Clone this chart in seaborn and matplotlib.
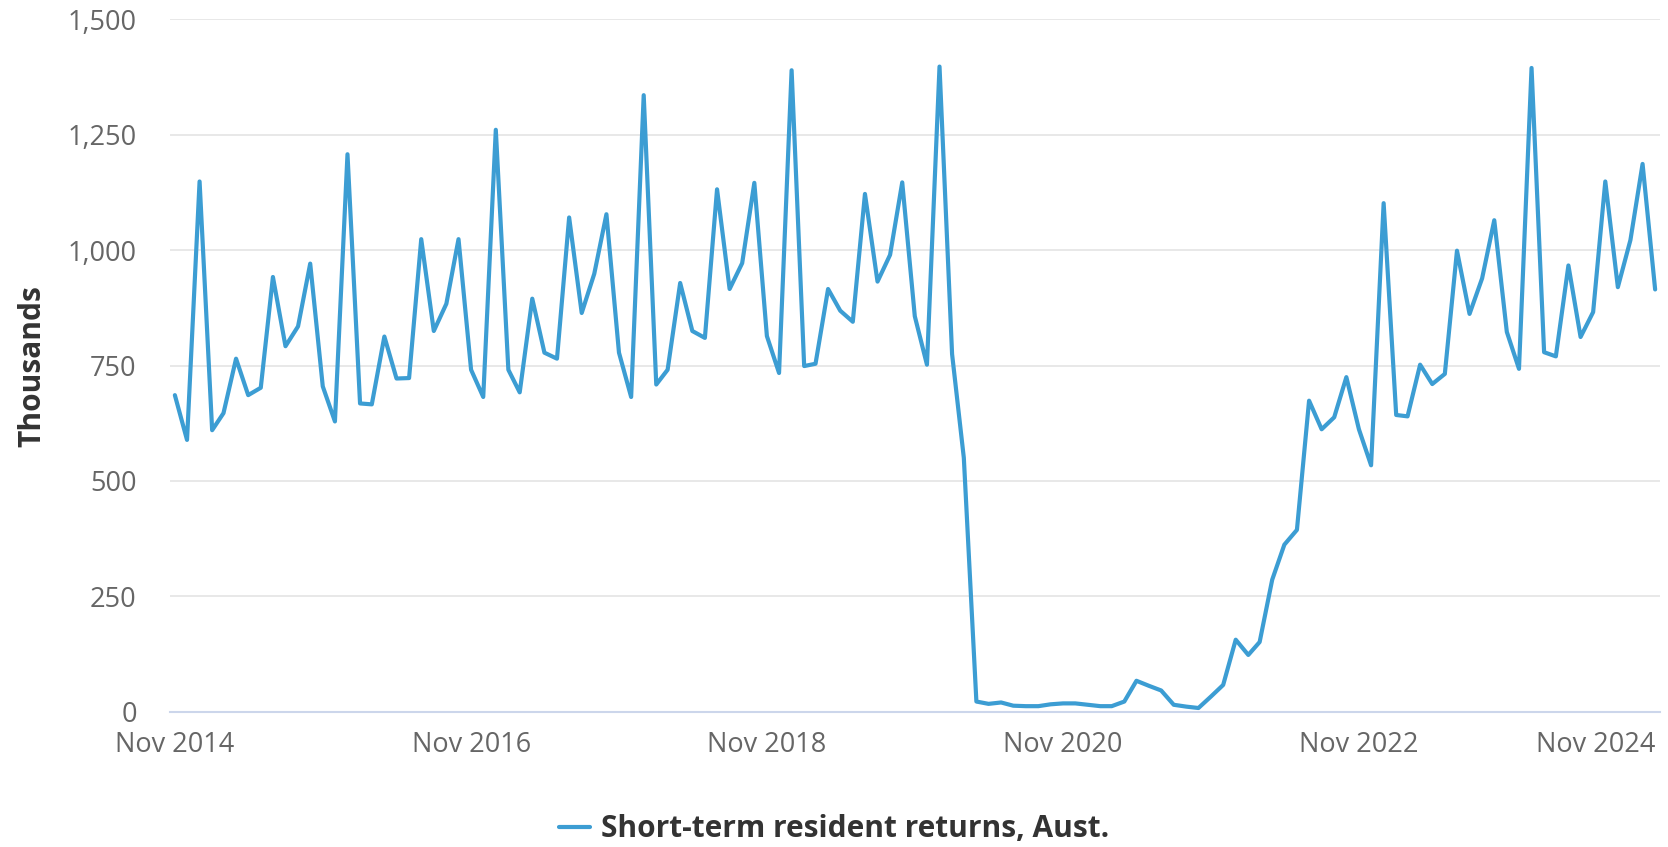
import pandas as pd
import matplotlib
matplotlib.use("Agg")
import matplotlib.pyplot as plt
import matplotlib.dates as mdates
from matplotlib.ticker import FuncFormatter
import seaborn as sns

# Monthly short-term resident returns (thousands), Nov 2014 - Nov 2024
months = pd.date_range("2014-11-01", "2024-11-01", freq="MS")
returns_2014 = [686, 589]
returns_2015 = [1149, 610, 647, 765, 686, 702, 942, 792, 835, 971, 705, 629]
returns_2016 = [1208, 668, 666, 813, 722, 723, 1024, 825, 884, 1024, 741, 682]
returns_2017 = [1261, 741, 692, 895, 778, 765, 1071, 864, 949, 1078, 778, 682]
returns_2018 = [1336, 709, 741, 929, 825, 810, 1132, 916, 972, 1146, 814, 734]
returns_2019 = [1390, 749, 754, 916, 869, 845, 1122, 932, 990, 1147, 857, 752]
returns_2020 = [1398, 775, 550, 22, 17, 20, 13, 12, 12, 16, 18, 18]
returns_2021 = [15, 12, 12, 22, 67, 56, 46, 15, 11, 8, 33, 58]
returns_2022 = [156, 123, 151, 286, 362, 394, 674, 612, 638, 725, 612, 534]
returns_2023 = [1102, 643, 640, 752, 710, 732, 999, 862, 939, 1065, 823, 743]
returns_2024 = [1395, 779, 770, 967, 812, 866, 1149, 920, 1022, 1187, 915]

values = (returns_2014 + returns_2015 + returns_2016 + returns_2017 + returns_2018
          + returns_2019 + returns_2020 + returns_2021 + returns_2022
          + returns_2023 + returns_2024)
series_name = "Short-term resident returns, Aust."
tick_dates = pd.to_datetime(["2014-11-01", "2016-11-01", "2018-11-01",
                             "2020-11-01", "2022-11-01", "2024-11-01"])
y_ticks = [0, 250, 500, 750, 1000, 1250, 1500]

df = pd.DataFrame({"month": months, "value": values, "series": series_name})

# Style
sns.set_style("white")
plt.rcParams["font.family"] = ["Open Sans", "DejaVu Sans"]

line_color = "#3c9dd3"
W, H = 1668, 847
fig = plt.figure(figsize=(W / 100, H / 100), dpi=100)
ax = fig.add_axes([170 / W, (H - 711.7) / H, 1490 / W, 692.2 / H])

sns.lineplot(data=df, x="month", y="value", color=line_color, linewidth=3.0,
             ax=ax, label=series_name, legend=False)

ax.set_xlim(months[0] - pd.Timedelta(days=12), months[-1] + pd.Timedelta(days=12))
ax.set_ylim(0, 1500)
ax.set_yticks(y_ticks)
ax.yaxis.set_major_formatter(FuncFormatter(lambda v, p: f"{int(v):,}"))
ax.set_xticks(tick_dates)
ax.xaxis.set_major_formatter(mdates.DateFormatter("%b %Y"))

ax.grid(axis="y", color="#e6e6e6", linewidth=1.3)
ax.grid(axis="x", visible=False)
ax.set_axisbelow(True)
for side in ["top", "left", "right"]:
    ax.spines[side].set_visible(False)
ax.spines["bottom"].set_color("#ccd6eb")
ax.spines["bottom"].set_linewidth(1.5)

ax.tick_params(axis="both", length=0, labelsize=19.5, labelcolor="#666666")
ax.tick_params(axis="y", pad=24)
ax.tick_params(axis="x", pad=14)
# keep the last date label inside the figure, like the original
last_lbl = ax.get_xticklabels()[-1]
last_lbl.set_horizontalalignment("right")

ax.set_xlabel("")
ax.set_ylabel("Thousands", fontsize=21.5, color="#333333", fontweight="bold",
              va="center")
ax.yaxis.set_label_coords((32 - 170) / 1490, 0.5)

handles, labels = ax.get_legend_handles_labels()
leg = fig.legend(handles, labels, loc="center", bbox_to_anchor=(0.5, 18 / H),
                 frameon=False, handlelength=1.05, handletextpad=0.35,
                 prop={"size": 21.5, "weight": "bold"})
for t in leg.get_texts():
    t.set_color("#333333")
for h in leg.legend_handles:
    h.set_linewidth(3.0)

plt.savefig("out.png", dpi=100)
